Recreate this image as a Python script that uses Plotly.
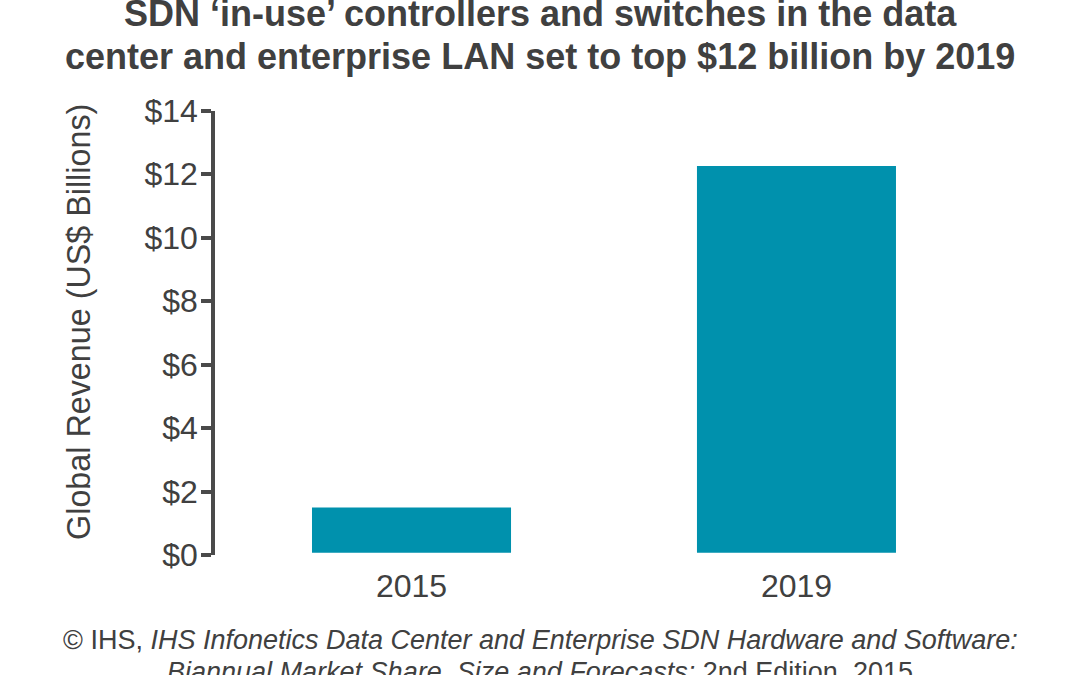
import plotly.graph_objects as go

# values
years = ["2015", "2019"]
revenue = [1.43, 12.19]
tick_vals = [0, 2, 4, 6, 8, 10, 12, 14]
tick_text = ["$0", "$2", "$4", "$6", "$8", "$10", "$12", "$14"]

title_lines = ["SDN ‘in-use’ controllers and switches in the data",
               "center and enterprise LAN set to top $12 billion by 2019"]
source_lines = ["© IHS, <i>IHS Infonetics Data Center and Enterprise SDN Hardware and Software:</i>",
                "<i>Biannual Market Share, Size and Forecasts:</i> 2nd Edition, 2015"]

font = "Liberation Sans"
grey = "#404040"
axis_grey = "#4a4a4a"

fig = go.Figure()
fig.add_trace(go.Bar(x=years, y=revenue, base=0.07, width=0.517, marker=dict(color="#0091AD", line=dict(width=0))))

fig.update_layout(
    width=1080,
    height=675,
    margin=dict(l=0, r=0, t=0, b=0),
    paper_bgcolor="white",
    plot_bgcolor="white",
    showlegend=False,
    font=dict(family=font, color=grey),
    xaxis=dict(
        domain=[0.2028, 0.9157],
        showline=False,
        showgrid=False,
        ticks="",
        ticklabelstandoff=9,
        tickfont=dict(size=32, color=grey),
    ),
    yaxis=dict(
        domain=[0.1596, 0.855],
        range=[0, 14],
        anchor="free",
        position=0.1974,
        tickvals=tick_vals,
        ticktext=tick_text,
        ticks="outside",
        ticklen=10,
        tickwidth=4,
        tickcolor=axis_grey,
        showline=True,
        linewidth=4,
        linecolor=axis_grey,
        showgrid=False,
        zeroline=False,
        ticklabelstandoff=-3,
        tickfont=dict(size=32, color=grey),
    ),
)

for line, y in zip(title_lines, [1.0078, 0.9398]):
    fig.add_annotation(text="<b>" + line + "</b>", xref="paper", yref="paper", x=0.5, y=y,
                       xanchor="center", yanchor="middle", showarrow=False,
                       font=dict(size=36, color=grey, family=font))
fig.add_annotation(text="Global Revenue (US$ Billions)", textangle=-90,
                   xref="paper", yref="paper", x=0.0731, y=0.5243, xanchor="center", yanchor="middle",
                   showarrow=False, font=dict(size=32.3, color=grey, family=font))
for line, y in zip(source_lines, [0.0266, -0.0235]):
    fig.add_annotation(text=line, xref="paper", yref="paper", x=0.5, y=y,
                       xanchor="center", yanchor="middle", showarrow=False,
                       font=dict(size=27, color=grey, family=font))

# title sits right at the top edge, so the page's default body margin has to go
fig.write_html("out.html", config=dict(displayModeBar=False), post_script="document.body.style.margin = '0';")
